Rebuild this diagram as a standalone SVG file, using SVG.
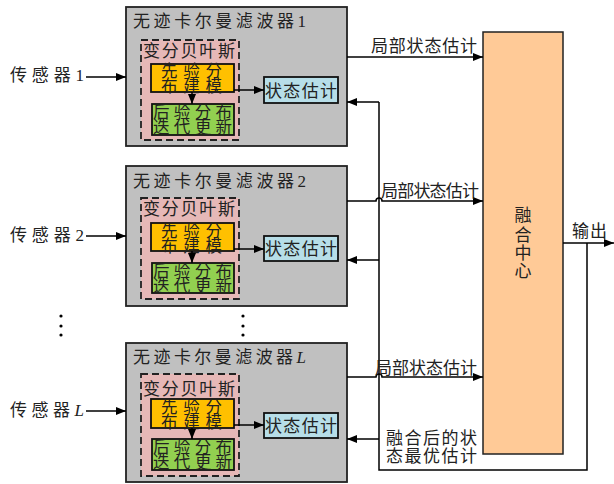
<svg xmlns="http://www.w3.org/2000/svg" width="614" height="484" viewBox="0 0 614 484">
<defs>
<style>
text{font-family:"Liberation Serif","Noto Sans CJK SC",serif;fill:#222;}
.t16{font-size:16.5px;}
.t17{font-size:17px;}
.ti{font-size:17px;}
.ln{stroke:#000;stroke-width:1.5;fill:none;}
.gray{fill:#C0C0C0;stroke:#222;stroke-width:1.8;}
.dash{fill:#E6B8B7;stroke:#222;stroke-width:1.8;stroke-dasharray:7,4;}
.org{fill:#FFC000;stroke:#111;stroke-width:1.8;}
.grn{fill:#92D050;stroke:#111;stroke-width:1.8;}
.blu{fill:#B7DEE8;stroke:#111;stroke-width:1.8;}
</style>
<marker id="ah" viewBox="0 0 10 8" refX="10" refY="4" markerWidth="10" markerHeight="8" markerUnits="userSpaceOnUse" orient="auto">
<path d="M0,0 L10,4 L0,8 z" fill="#000"/>
</marker>
</defs>

<g id="filter1" transform="translate(0,7)">
<rect class="gray" x="126" y="0" width="221" height="139"/>
<text class="ti" x="133" y="20" textLength="173" lengthAdjust="spacing">无迹卡尔曼滤波器1</text>
<rect class="dash" x="141" y="33" width="98" height="100"/>
<text class="ti" x="143" y="50" textLength="92" lengthAdjust="spacing">变分贝叶斯</text>
<rect class="org" x="151" y="57" width="83" height="28"/>
<text class="t16" x="161" y="70" textLength="61" lengthAdjust="spacing">先验分</text>
<text class="t16" x="161" y="85" textLength="61" lengthAdjust="spacing">布建模</text>
<rect class="grn" x="152" y="97" width="82" height="31"/>
<text class="t16" x="153" y="111" textLength="79" lengthAdjust="spacing">后验分布</text>
<text class="t16" x="153" y="126" textLength="79" lengthAdjust="spacing">迭代更新</text>
<rect class="blu" x="264" y="70" width="74" height="26"/>
<text class="t17" x="265" y="90" textLength="72" lengthAdjust="spacing">状态估计</text>
<line class="ln" x1="192" y1="85" x2="192" y2="97" marker-end="url(#ah)"/>
<line class="ln" x1="234" y1="83" x2="264" y2="83" marker-end="url(#ah)"/>
</g>

<g id="filter2" transform="translate(0,166)">
<rect class="gray" x="126" y="0" width="221" height="140"/>
<text class="ti" x="133" y="21" textLength="173" lengthAdjust="spacing">无迹卡尔曼滤波器2</text>
<rect class="dash" x="141" y="32" width="98" height="101"/>
<text class="ti" x="143" y="49" textLength="92" lengthAdjust="spacing">变分贝叶斯</text>
<rect class="org" x="151" y="57" width="83" height="28"/>
<text class="t16" x="161" y="71" textLength="61" lengthAdjust="spacing">先验分</text>
<text class="t16" x="161" y="86" textLength="61" lengthAdjust="spacing">布建模</text>
<rect class="grn" x="152" y="97" width="82" height="30"/>
<text class="t16" x="153" y="111" textLength="79" lengthAdjust="spacing">后验分布</text>
<text class="t16" x="153" y="126" textLength="79" lengthAdjust="spacing">迭代更新</text>
<rect class="blu" x="264" y="70" width="74" height="25"/>
<text class="t17" x="265" y="89" textLength="72" lengthAdjust="spacing">状态估计</text>
<line class="ln" x1="192" y1="85" x2="192" y2="97" marker-end="url(#ah)"/>
<line class="ln" x1="234" y1="83" x2="264" y2="83" marker-end="url(#ah)"/>
</g>

<g id="filterL" transform="translate(0,343)">
<rect class="gray" x="126" y="0" width="221" height="139"/>
<text class="ti" x="133" y="20" textLength="173" lengthAdjust="spacing">无迹卡尔曼滤波器<tspan font-style="italic">L</tspan></text>
<rect class="dash" x="141" y="31" width="98" height="102"/>
<text class="ti" x="143" y="52" textLength="92" lengthAdjust="spacing">变分贝叶斯</text>
<rect class="org" x="151" y="56" width="83" height="29"/>
<text class="t16" x="161" y="70" textLength="61" lengthAdjust="spacing">先验分</text>
<text class="t16" x="161" y="85" textLength="61" lengthAdjust="spacing">布建模</text>
<rect class="grn" x="152" y="96" width="82" height="31"/>
<text class="t16" x="153" y="110" textLength="79" lengthAdjust="spacing">后验分布</text>
<text class="t16" x="153" y="125" textLength="79" lengthAdjust="spacing">迭代更新</text>
<rect class="blu" x="264" y="70" width="74" height="25"/>
<text class="t17" x="265" y="89" textLength="72" lengthAdjust="spacing">状态估计</text>
<line class="ln" x1="192" y1="85" x2="192" y2="96" marker-end="url(#ah)"/>
<line class="ln" x1="234" y1="82" x2="264" y2="82" marker-end="url(#ah)"/>
</g>

<g id="sensors">
<text class="ti" x="10" y="81" textLength="74" lengthAdjust="spacing">传感器1</text>
<text class="ti" x="10" y="241" textLength="74" lengthAdjust="spacing">传感器2</text>
<text class="ti" x="10" y="416" textLength="74" lengthAdjust="spacing">传感器<tspan font-style="italic">L</tspan></text>
</g>

<g id="fusion">
<rect x="483" y="32" width="80" height="422" fill="#FFCA97" stroke="#222" stroke-width="1.5"/>
<text class="t17" x="523" y="221" text-anchor="middle">融</text>
<text class="t17" x="523" y="241" text-anchor="middle">合</text>
<text class="t17" x="523" y="259" text-anchor="middle">中</text>
<text class="t17" x="523" y="277" text-anchor="middle">心</text>
</g>

<g id="dots" fill="#000">
<circle cx="61" cy="316" r="1.6"/><circle cx="61" cy="326" r="1.6"/><circle cx="61" cy="335" r="1.6"/>
<circle cx="243" cy="316" r="1.6"/><circle cx="243" cy="326" r="1.6"/><circle cx="243" cy="335" r="1.6"/>
</g>

<g id="connectors">
<line class="ln" x1="86" y1="77" x2="126" y2="77" marker-end="url(#ah)"/>
<line class="ln" x1="86" y1="236" x2="126" y2="236" marker-end="url(#ah)"/>
<line class="ln" x1="86" y1="411" x2="126" y2="411" marker-end="url(#ah)"/>
<line class="ln" x1="347" y1="57" x2="483" y2="57" marker-end="url(#ah)"/>
<path class="ln" d="M347,201 H376 a3,3 0 0 1 6,0 H483" marker-end="url(#ah)"/>
<path class="ln" d="M347,377 H376 a3,3 0 0 1 6,0 H483" marker-end="url(#ah)"/>
<path class="ln" d="M563,243 H614" marker-end="url(#ah)"/>
<path class="ln" d="M587,243 V470 H379 V102"/>
<line class="ln" x1="379" y1="102" x2="347" y2="102" marker-end="url(#ah)"/>
<line class="ln" x1="379" y1="260" x2="347" y2="260" marker-end="url(#ah)"/>
<line class="ln" x1="379" y1="439" x2="347" y2="439" marker-end="url(#ah)"/>
<text class="t17" x="371" y="52" textLength="106" lengthAdjust="spacing">局部状态估计</text>
<text class="t17" x="381" y="197" textLength="98" lengthAdjust="spacing">局部状态估计</text>
<text class="t17" x="375" y="374" textLength="102" lengthAdjust="spacing">局部状态估计</text>
<text class="t17" x="572" y="237" textLength="35" lengthAdjust="spacing">输出</text>
<text class="t17" x="386" y="444" textLength="91" lengthAdjust="spacing">融合后的状</text>
<text class="t17" x="386" y="462" textLength="91" lengthAdjust="spacing">态最优估计</text>
</g>
</svg>
